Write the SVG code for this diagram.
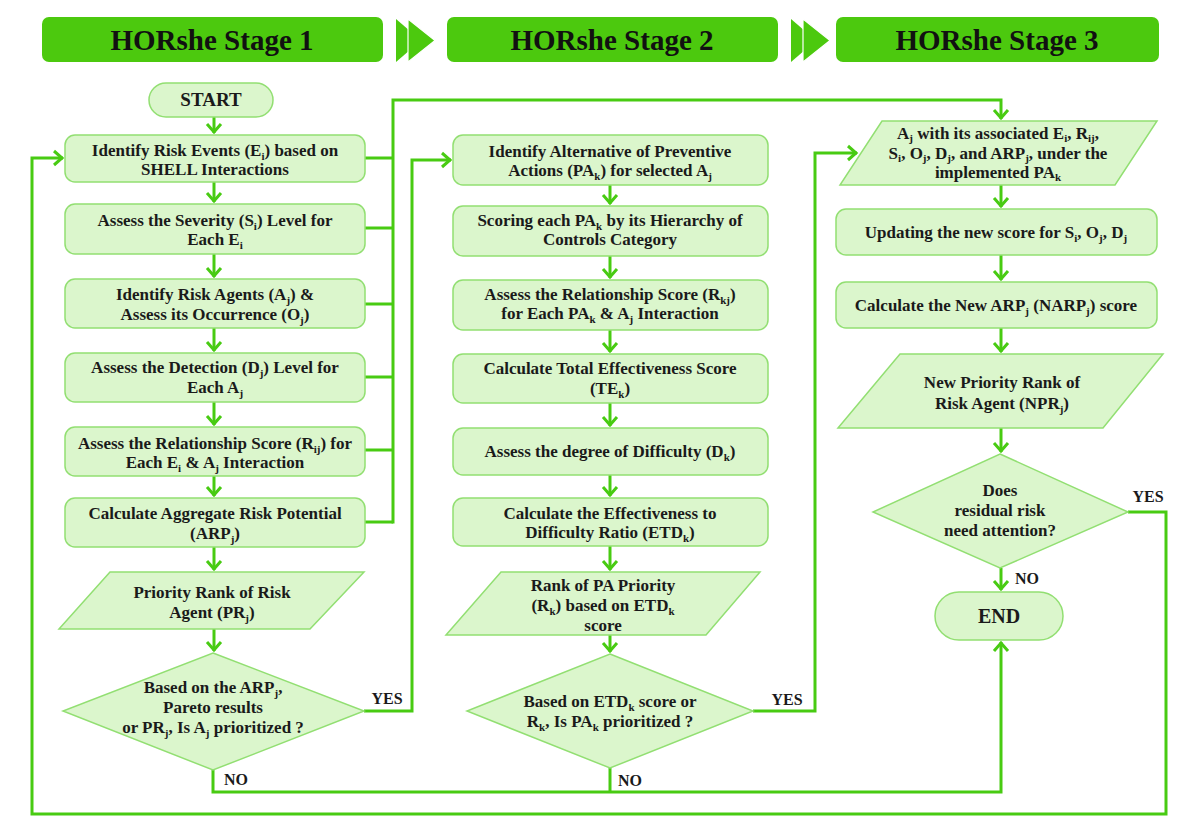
<svg xmlns="http://www.w3.org/2000/svg" width="1200" height="831" viewBox="0 0 1200 831">
<style>
.hdr{fill:#4cc90e}
.hdrt{font-family:"Liberation Serif",serif;font-weight:bold;font-size:29px;fill:#111;text-anchor:middle}
.nd{fill:#dbf6cc;stroke:#92df72;stroke-width:1.5}
.t{font-family:"Liberation Serif",serif;font-weight:bold;font-size:17px;fill:#1a1a1a;text-anchor:middle}
.sb{font-size:11px}
.lbl{font-family:"Liberation Serif",serif;font-weight:bold;font-size:16px;fill:#1a1a1a;text-anchor:middle}
.c{fill:none;stroke:#48cb12;stroke-width:3}
.ca{fill:none;stroke:#48cb12;stroke-width:3;marker-end:url(#ah)}
</style>
<defs>
<marker id="ah" markerUnits="userSpaceOnUse" markerWidth="20" markerHeight="20" viewBox="-10 -10 20 20" refX="1" refY="0" orient="auto">
<path d="M-8,-7 L0,0 L-8,7" fill="none" stroke="#48cb12" stroke-width="3"/>
</marker>
</defs>
<rect width="1200" height="831" fill="#ffffff"/>

<g id="headers">
<rect class="hdr" x="42" y="17" width="341" height="45" rx="7"/>
<text class="hdrt" x="212" y="50">HORshe Stage 1</text>
<polygon class="hdr" points="396,19 421,40.5 396,62"/>
<polygon class="hdr" points="408,19 435,40.5 408,62" stroke="#ffffff" stroke-width="1.2"/>
<rect class="hdr" x="447" y="17" width="331" height="45" rx="7"/>
<text class="hdrt" x="612" y="50">HORshe Stage 2</text>
<polygon class="hdr" points="791,19 816,40.5 791,62"/>
<polygon class="hdr" points="803,19 830,40.5 803,62" stroke="#ffffff" stroke-width="1.2"/>
<rect class="hdr" x="836" y="17" width="323" height="45" rx="7"/>
<text class="hdrt" x="997" y="50">HORshe Stage 3</text>
</g>

<g id="connectors">
<path class="ca" d="M214,117 V133"/>
<path class="ca" d="M214,182 V202"/>
<path class="ca" d="M214,254 V277"/>
<path class="ca" d="M214,328 V351"/>
<path class="ca" d="M214,402 V425"/>
<path class="ca" d="M214,476 V496"/>
<path class="ca" d="M214,547 V570"/>
<path class="ca" d="M214,629 V651"/>
<path class="c" d="M365,158 H393 M365,228 H393 M365,304 H393 M365,377 H393 M365,450 H393 M365,522 H393"/>
<path class="ca" d="M393,523.5 V100 H1001 V119"/>
<path class="ca" d="M364,711 H412 V160 H451"/>
<path class="ca" d="M213,770 V792 H1001 V642"/>
<path class="c" d="M610,768 V792"/>
<path class="ca" d="M753,711 H815 V153 H857"/>
<path class="ca" d="M610,185 V204"/>
<path class="ca" d="M610,256 V278"/>
<path class="ca" d="M610,330 V352"/>
<path class="ca" d="M610,403 V426"/>
<path class="ca" d="M610,475 V496"/>
<path class="ca" d="M610,546 V570"/>
<path class="ca" d="M610,635 V652"/>
<path class="ca" d="M1001,185 V207"/>
<path class="ca" d="M1001,255 V280"/>
<path class="ca" d="M1001,328 V352"/>
<path class="ca" d="M1001,428 V452"/>
<path class="ca" d="M1001,568 V590"/>
<path class="ca" d="M1128,512 H1166 V814 H32 V158 H63"/>
<text class="lbl" x="387" y="704">YES</text>
<text class="lbl" x="236" y="785">NO</text>
<text class="lbl" x="787" y="705">YES</text>
<text class="lbl" x="630" y="786">NO</text>
<text class="lbl" x="1148" y="502">YES</text>
<text class="lbl" x="1027" y="584">NO</text>
</g>

<g id="start">
<rect class="nd" x="149" y="83" width="124" height="34" rx="17"/>
<text class="t" x="211" y="106" style="font-size:19px">START</text>
</g>
<g id="s1-identify-events">
<rect class="nd" x="65" y="135" width="300" height="47" rx="10"/>
<text class="t" x="215" y="156">Identify Risk Events (E<tspan class="sb" dy="4">i</tspan><tspan dy="-4">) based on</tspan></text>
<text class="t" x="215" y="175">SHELL Interactions</text>
</g>
<g id="s1-severity">
<rect class="nd" x="65" y="204" width="300" height="50" rx="10"/>
<text class="t" x="215" y="226">Assess the Severity (S<tspan class="sb" dy="4">i</tspan><tspan dy="-4">) Level for</tspan></text>
<text class="t" x="215" y="245">Each E<tspan class="sb" dy="4">i</tspan></text>
</g>
<g id="s1-agents">
<rect class="nd" x="65" y="279" width="300" height="49" rx="10"/>
<text class="t" x="215" y="300">Identify Risk Agents (A<tspan class="sb" dy="4">j</tspan><tspan dy="-4">) &amp;</tspan></text>
<text class="t" x="215" y="320">Assess its Occurrence (O<tspan class="sb" dy="4">j</tspan><tspan dy="-4">)</tspan></text>
</g>
<g id="s1-detection">
<rect class="nd" x="65" y="353" width="300" height="49" rx="10"/>
<text class="t" x="215" y="373">Assess the Detection (D<tspan class="sb" dy="4">j</tspan><tspan dy="-4">) Level for</tspan></text>
<text class="t" x="215" y="393">Each A<tspan class="sb" dy="4">j</tspan></text>
</g>
<g id="s1-relationship">
<rect class="nd" x="65" y="427" width="300" height="49" rx="10"/>
<text class="t" x="215" y="449">Assess the Relationship Score (R<tspan class="sb" dy="4">ij</tspan><tspan dy="-4">) for</tspan></text>
<text class="t" x="215" y="468">Each E<tspan class="sb" dy="4">i</tspan><tspan dy="-4"> &amp; A</tspan><tspan class="sb" dy="4">j</tspan><tspan dy="-4"> Interaction</tspan></text>
</g>
<g id="s1-arp">
<rect class="nd" x="65" y="498" width="300" height="49" rx="10"/>
<text class="t" x="215" y="519">Calculate Aggregate Risk Potential</text>
<text class="t" x="215" y="539">(ARP<tspan class="sb" dy="4">j</tspan><tspan dy="-4">)</tspan></text>
</g>
<g id="s1-priority">
<polygon class="nd" points="110,572 364,572 310,629 59,629"/>
<text class="t" x="212" y="598">Priority Rank of Risk</text>
<text class="t" x="212" y="618">Agent (PR<tspan class="sb" dy="4">j</tspan><tspan dy="-4">)</tspan></text>
</g>
<g id="s1-decision">
<polygon class="nd" points="213,653 364,711 213,770 63,711"/>
<text class="t" x="213" y="693">Based on the ARP<tspan class="sb" dy="4">j</tspan><tspan dy="-4">,</tspan></text>
<text class="t" x="213" y="713">Pareto results</text>
<text class="t" x="213" y="733">or PR<tspan class="sb" dy="4">j</tspan><tspan dy="-4">, Is A</tspan><tspan class="sb" dy="4">j</tspan><tspan dy="-4"> prioritized ?</tspan></text>
</g>

<g id="s2-alternatives">
<rect class="nd" x="453" y="135" width="315" height="50" rx="10"/>
<text class="t" x="610" y="157">Identify Alternative of Preventive</text>
<text class="t" x="610" y="176">Actions (PA<tspan class="sb" dy="4">k</tspan><tspan dy="-4">) for selected A</tspan><tspan class="sb" dy="4">j</tspan></text>
</g>
<g id="s2-scoring">
<rect class="nd" x="453" y="206" width="315" height="50" rx="10"/>
<text class="t" x="610" y="226">Scoring each PA<tspan class="sb" dy="4">k</tspan><tspan dy="-4"> by its Hierarchy of</tspan></text>
<text class="t" x="610" y="245">Controls Category</text>
</g>
<g id="s2-relationship">
<rect class="nd" x="453" y="280" width="315" height="50" rx="10"/>
<text class="t" x="610" y="300">Assess the Relationship Score (R<tspan class="sb" dy="4">kj</tspan><tspan dy="-4">)</tspan></text>
<text class="t" x="610" y="319">for Each PA<tspan class="sb" dy="4">k</tspan><tspan dy="-4"> &amp; A</tspan><tspan class="sb" dy="4">j</tspan><tspan dy="-4"> Interaction</tspan></text>
</g>
<g id="s2-te">
<rect class="nd" x="453" y="354" width="315" height="49" rx="10"/>
<text class="t" x="610" y="374">Calculate Total Effectiveness Score</text>
<text class="t" x="610" y="394">(TE<tspan class="sb" dy="4">k</tspan><tspan dy="-4">)</tspan></text>
</g>
<g id="s2-difficulty">
<rect class="nd" x="453" y="428" width="315" height="47" rx="10"/>
<text class="t" x="610" y="457">Assess the degree of Difficulty (D<tspan class="sb" dy="4">k</tspan><tspan dy="-4">)</tspan></text>
</g>
<g id="s2-etd">
<rect class="nd" x="453" y="498" width="315" height="48" rx="10"/>
<text class="t" x="610" y="519">Calculate the Effectiveness to</text>
<text class="t" x="610" y="538">Difficulty Ratio (ETD<tspan class="sb" dy="4">k</tspan><tspan dy="-4">)</tspan></text>
</g>
<g id="s2-rank">
<polygon class="nd" points="501,572 760,572 706,635 446,635"/>
<text class="t" x="603" y="591">Rank of PA Priority</text>
<text class="t" x="603" y="611">(R<tspan class="sb" dy="4">k</tspan><tspan dy="-4">) based on ETD</tspan><tspan class="sb" dy="4">k</tspan></text>
<text class="t" x="603" y="631">score</text>
</g>
<g id="s2-decision">
<polygon class="nd" points="610,654 753,711 610,768 467,711"/>
<text class="t" x="610" y="707">Based on ETD<tspan class="sb" dy="4">k</tspan><tspan dy="-4"> score or</tspan></text>
<text class="t" x="610" y="727">R<tspan class="sb" dy="4">k</tspan><tspan dy="-4">, Is PA</tspan><tspan class="sb" dy="4">k</tspan><tspan dy="-4"> prioritized ?</tspan></text>
</g>

<g id="s3-agents">
<polygon class="nd" points="882,121 1157,121 1115,185 840,185"/>
<text class="t" x="998" y="139">A<tspan class="sb" dy="3">j</tspan><tspan dy="-3"> with its associated E</tspan><tspan class="sb" dy="3">i</tspan><tspan dy="-3">, R</tspan><tspan class="sb" dy="3">ij</tspan><tspan dy="-3">,</tspan></text>
<text class="t" x="998" y="159">S<tspan class="sb" dy="3">i</tspan><tspan dy="-3">, O</tspan><tspan class="sb" dy="3">j</tspan><tspan dy="-3">, D</tspan><tspan class="sb" dy="3">j</tspan><tspan dy="-3">, and ARP</tspan><tspan class="sb" dy="3">j</tspan><tspan dy="-3">, under the</tspan></text>
<text class="t" x="998" y="178">implemented PA<tspan class="sb" dy="3">k</tspan></text>
</g>
<g id="s3-update">
<rect class="nd" x="836" y="209" width="321" height="46" rx="10"/>
<text class="t" x="996" y="238">Updating the new score for S<tspan class="sb" dy="4">i</tspan><tspan dy="-4">, O</tspan><tspan class="sb" dy="4">j</tspan><tspan dy="-4">, D</tspan><tspan class="sb" dy="4">j</tspan></text>
</g>
<g id="s3-narp">
<rect class="nd" x="836" y="282" width="321" height="46" rx="10"/>
<text class="t" x="996" y="311">Calculate the New ARP<tspan class="sb" dy="4">j</tspan><tspan dy="-4"> (NARP</tspan><tspan class="sb" dy="4">j</tspan><tspan dy="-4">) score</tspan></text>
</g>
<g id="s3-npr">
<polygon class="nd" points="900,354 1163,354 1103,428 838,428"/>
<text class="t" x="1002" y="388">New Priority Rank of</text>
<text class="t" x="1002" y="409">Risk Agent (NPR<tspan class="sb" dy="4">j</tspan><tspan dy="-4">)</tspan></text>
</g>
<g id="s3-decision">
<polygon class="nd" points="1000,454 1128,512 1000,568 873,512"/>
<text class="t" x="1000" y="496">Does</text>
<text class="t" x="1000" y="516">residual risk</text>
<text class="t" x="1000" y="536">need attention?</text>
</g>
<g id="end">
<rect class="nd" x="935" y="592" width="128" height="48" rx="24"/>
<text class="t" x="999" y="623" style="font-size:20px">END</text>
</g>
</svg>
